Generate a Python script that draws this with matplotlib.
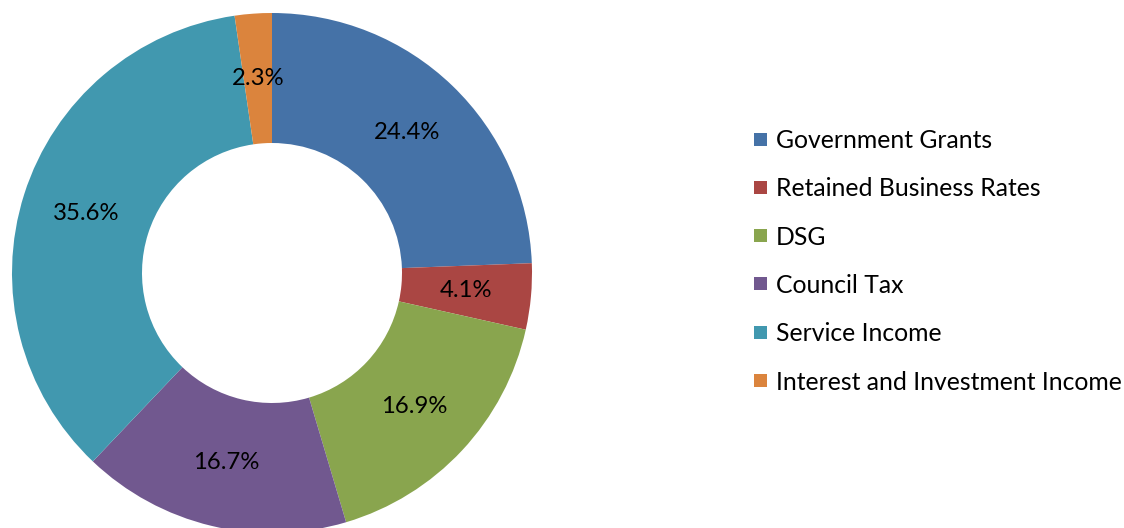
import matplotlib
matplotlib.use("Agg")
import matplotlib.pyplot as plt
from matplotlib.patches import Rectangle

categories = ["Government Grants", "Retained Business Rates", "DSG",
              "Council Tax", "Service Income", "Interest and Investment Income"]
values = [24.4, 4.1, 16.9, 16.7, 35.6, 2.3]
colors = ["#4572A7", "#AA4643", "#89A54E", "#71588F", "#4198AF", "#DB843D"]

plt.rcParams['font.family'] = ['Lato', 'DejaVu Sans']

W, H = 1124, 528
fig = plt.figure(figsize=(W / 100, H / 100), dpi=100)
ax = fig.add_axes([0, 0, 1, 1])

cx, cy, R = 272, 273, 260  # pixel centre (from top) and radius
ax.pie(values, colors=colors, startangle=90, counterclock=False, radius=1,
       wedgeprops=dict(width=0.5, linewidth=0),
       autopct=lambda p: f"{p:.1f}%", pctdistance=0.75,
       textprops=dict(fontsize=17.2, color="black"))
ax.set_aspect('equal')
ax.set_xlim(-cx / R, (W - cx) / R)
ax.set_ylim(-(H - cy) / R, cy / R)
ax.axis('off')

# legend
y0, dy = 139, 48.3
for i, (lab, col) in enumerate(zip(categories, colors)):
    y = y0 + i * dy
    fig.patches.append(Rectangle((754 / W, 1 - (y + 6.5) / H), 13 / W, 13 / H,
                                 transform=fig.transFigure, facecolor=col,
                                 edgecolor='none'))
    fig.text(776 / W, 1 - (y + 1.5) / H, lab, fontsize=17.8, va='center',
             ha='left', color='black')

fig.savefig("out.png", dpi=100)
